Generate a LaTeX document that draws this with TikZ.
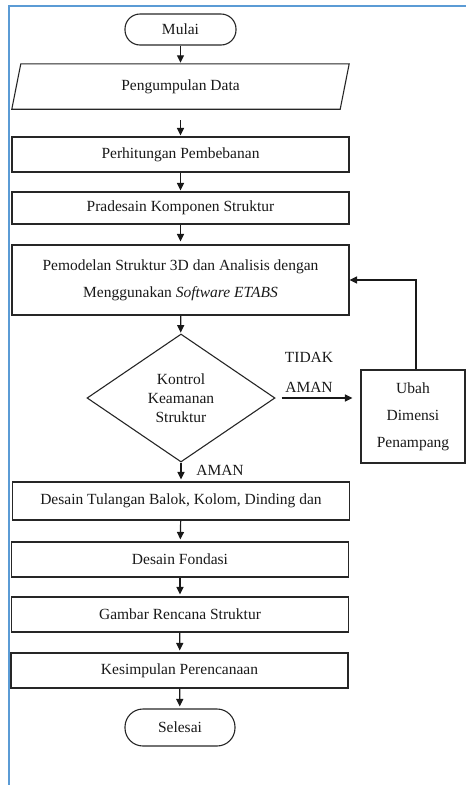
\documentclass[tikz,border=0pt]{standalone}
\usepackage{fontspec}
\setmainfont{Liberation Serif}
\usetikzlibrary{shapes.geometric,arrows.meta,calc}
\begin{document}
\begin{tikzpicture}[x=1pt,y=-1pt,
  every node/.style={font=\fontsize{15.5}{27}\selectfont, text=black!90},
  box/.style={draw=black!85, line width=1.1pt, minimum width=337pt, inner sep=0pt, align=center},
  term/.style={draw=black!85, line width=1.1pt, rounded corners=15pt, minimum width=111pt, inner sep=0pt},
  decide/.style={diamond, draw=black!85, line width=1.1pt, minimum width=188pt, minimum height=128pt, inner sep=0pt, align=center, font=\fontsize{15.5}{19}\selectfont},
  arr/.style={line width=1.2pt, draw=black!90, -{Triangle[length=7.5pt,width=7pt]}},
  lbl/.style={inner sep=0pt},
  frame/.style={draw={rgb,255:red,91;green,155;blue,213}, line width=2pt}
]
\useasboundingbox (0,0) rectangle (466,785);
\draw[frame] (8.5,785) -- (8.5,6) -- (466,6);

\node[term, minimum height=31pt] (mulai) at (180.5,29.5) {Mulai};
\node[inner sep=0pt, minimum width=337pt, minimum height=45pt] (data) at (180.5,86.5) {Pengumpulan Data};
\draw[draw=black!85, line width=1.1pt] ($(data.north west)+(9,0)$) -- (data.north east) -- ($(data.south east)+(-9,0)$) -- (data.south west) -- cycle;
\node[box, minimum height=35pt] (hitung) at (180.5,154.5) {Perhitungan Pembebanan};
\node[box, minimum height=32pt] (pra) at (180.5,208) {Pradesain Komponen Struktur};
\node[box, minimum height=70pt] (model) at (180.5,280) {Pemodelan Struktur 3D dan Analisis dengan\\Menggunakan \textit{Software ETABS}};
\node[decide] (kontrol) at (181,398) {Kontrol\\Keamanan\\Struktur};
\node[draw=black!85, line width=1.1pt, minimum width=104pt, minimum height=93pt, inner sep=0pt, align=center] (ubah) at (413,416.5) {Ubah\\Dimensi\\Penampang};
\node[box, minimum height=38pt] (tulangan) at (181,501) {Desain Tulangan Balok, Kolom, Dinding dan};
\node[box, minimum height=35pt] (fondasi) at (180,559.5) {Desain Fondasi};
\node[box, minimum height=35pt] (gambar) at (180,614.5) {Gambar Rencana Struktur};
\node[box, minimum height=35pt] (simpul) at (179.5,670.5) {Kesimpulan Perencanaan};
\node[term, minimum height=37pt, rounded corners=18pt, minimum width=110pt] (selesai) at (180,727.5) {Selesai};

\node[lbl] (tidak) at (309,357) {TIDAK};
\node[lbl] (aman1) at (309,387) {AMAN};
\node[lbl] (aman2) at (220,470) {AMAN};

\draw[arr, shorten >=1pt] (mulai) -- (data);
\draw[arr, shorten <=11pt, shorten >=1pt] (data) -- (hitung);
\draw[arr, shorten >=1pt] (hitung) -- (pra);
\draw[arr, shorten >=3pt] (pra) -- (model);
\draw[arr, shorten >=1pt] (model) -- (kontrol);
\draw[arr, shorten <=6pt, shorten >=8pt] (kontrol.east) -- (ubah.west |- kontrol.east);
\draw[arr] ($(ubah.north)+(3,0)$) |- (model.east);
\draw[arr, shorten >=2pt] (kontrol.south) -- (tulangan.north -| kontrol.south);
\draw[arr, shorten >=2pt] (tulangan) -- (fondasi);
\draw[arr, shorten >=2pt] (fondasi) -- (gambar);
\draw[arr, shorten >=2pt] (gambar) -- (simpul);
\draw[arr, shorten >=2pt] (simpul) -- (selesai);
\end{tikzpicture}
\end{document}
